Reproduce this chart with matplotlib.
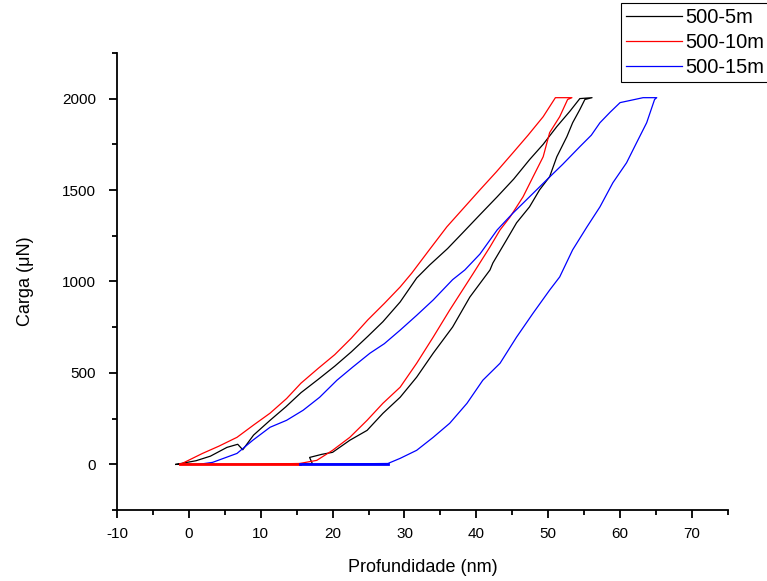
import matplotlib.pyplot as plt

plt.rcParams['font.family'] = ['Liberation Sans', 'DejaVu Sans']
plt.rcParams['axes.unicode_minus'] = False

# 500-5m (preto)
x_5m = [-1.8, 1.0, 3.0, 5.3, 6.8, 7.5, 9.0, 11.3, 13.5, 15.6, 18.0, 20.3, 22.6, 24.9, 27.0,
        29.4, 31.7, 33.5, 36.0, 38.1, 40.5, 42.9, 45.2, 47.4, 49.3, 51.2, 53.0, 54.4,
        56.1, 55.1, 54.4, 53.4, 52.6, 51.2, 50.2, 48.8, 47.4, 45.6, 44.2, 42.3,
        41.9, 39.1, 36.7, 34.0, 31.7, 29.4, 27.0, 24.8, 22.4, 20.0, 18.5, 16.8, 17.2,
        10.0, 0.0, -1.8]
y_5m = [0, 20, 45, 93, 110, 80, 160, 241, 315, 392, 465, 537, 615, 700, 780,
        888, 1019, 1090, 1180, 1266, 1365, 1463, 1560, 1666, 1750, 1847, 1930, 2000,
        2005, 1995, 1940, 1868, 1792, 1682, 1573, 1501, 1408, 1321, 1227, 1101,
        1063, 915, 751, 608, 477, 367, 279, 186, 132, 66, 55, 38, 3,
        0, 0, 0]

# 500-10m (vermelho)
x_10m = [-1.2, 1.9, 4.2, 6.7, 9.0, 11.3, 13.6, 15.6, 18.0, 20.3, 22.6, 24.9, 27.2,
         29.4, 31.0, 33.4, 35.9, 38.2, 40.5, 42.8, 45.1, 47.2, 49.3, 51.0,
         53.3, 52.7, 51.6, 50.2, 49.3, 47.9, 46.5, 44.7, 43.3, 41.9, 39.5,
         36.3, 34.0, 31.7, 29.4, 27.0, 24.8, 22.4, 20.0, 17.8, 15.4,
         8.0, -1.2]
y_10m = [0, 60, 100, 148, 215, 280, 360, 444, 525, 600, 690, 790, 880,
         970, 1045, 1170, 1299, 1400, 1501, 1600, 1704, 1800, 1901, 2005,
         2005, 1995, 1901, 1814, 1682, 1573, 1463, 1353, 1282, 1189, 1040,
         844, 696, 553, 422, 334, 241, 148, 77, 22, 5,
         0, 0]

# 500-15m (azul)
x_15m = [1.3, 3.3, 6.7, 8.9, 11.3, 13.6, 15.9, 18.2, 20.6, 22.8, 25.2, 27.2, 29.4,
         31.7, 34.0, 36.7, 38.4, 40.5, 42.9, 45.0, 47.4, 49.8, 52.0, 54.4, 56.0,
         57.2, 58.6, 60.0, 63.2, 65.1, 64.8, 63.7, 62.3, 60.9, 59.0, 57.2, 55.4,
         53.4, 51.6, 50.2, 47.9, 45.6, 43.3, 40.9, 38.7, 36.3, 34.0, 31.7, 29.4,
         27.7, 15.5]
y_15m = [0, 11, 60, 132, 203, 241, 296, 367, 460, 532, 608, 660, 734,
         815, 899, 1010, 1063, 1150, 1282, 1370, 1463, 1556, 1640, 1737, 1800,
         1868, 1925, 1978, 2005, 2005, 1995, 1868, 1759, 1649, 1540, 1408, 1299,
         1173, 1025, 953, 827, 696, 553, 460, 334, 225, 148, 77, 33,
         5, 0]

fig = plt.figure(figsize=(7.67, 5.81), dpi=100)
ax = fig.add_axes([0.1525, 0.122, 0.7965, 0.787])

ax.plot(x_5m, y_5m, color='black', lw=0.9, label='500-5m')
ax.plot(x_10m, y_10m, color='red', lw=0.9, label='500-10m')
ax.plot(x_15m, y_15m, color='blue', lw=0.9, label='500-15m')

# linhas de base mais grossas em zero
ax.plot([-1.2, 15.4], [0, 0], color='red', lw=2)
ax.plot([15.5, 27.7], [0, 0], color='blue', lw=2)

ax.set_xlim(-10, 75)
ax.set_ylim(-250, 2250)
ax.set_xticks(range(-10, 71, 10))
ax.set_xticks(range(-5, 76, 10), minor=True)
ax.set_yticks(range(0, 2001, 500))
ax.set_yticks(range(-250, 2251, 500), minor=True)

for s in ['top', 'right']:
    ax.spines[s].set_visible(False)
for s in ['left', 'bottom']:
    ax.spines[s].set_linewidth(1.3)
ax.tick_params(which='major', direction='out', length=6, width=1.3, labelsize=11)
ax.tick_params(which='minor', direction='out', length=3.5, width=1.3)
ax.tick_params(axis='y', which='major', pad=9)
ax.tick_params(axis='x', which='major', pad=6)

ax.set_xlabel('Profundidade (nm)', fontsize=13, labelpad=13)
ax.set_ylabel('Carga (\u03bcN)', fontsize=13, labelpad=20)

leg = fig.legend(loc='upper right', bbox_to_anchor=(1.003, 0.995), fontsize=14.5,
                 fancybox=False, framealpha=1, edgecolor='black', handlelength=2.8,
                 labelspacing=0.3, borderpad=0.25, handletextpad=0.15,
                 borderaxespad=0)
leg.get_frame().set_linewidth(0.8)

plt.savefig('out.png')
